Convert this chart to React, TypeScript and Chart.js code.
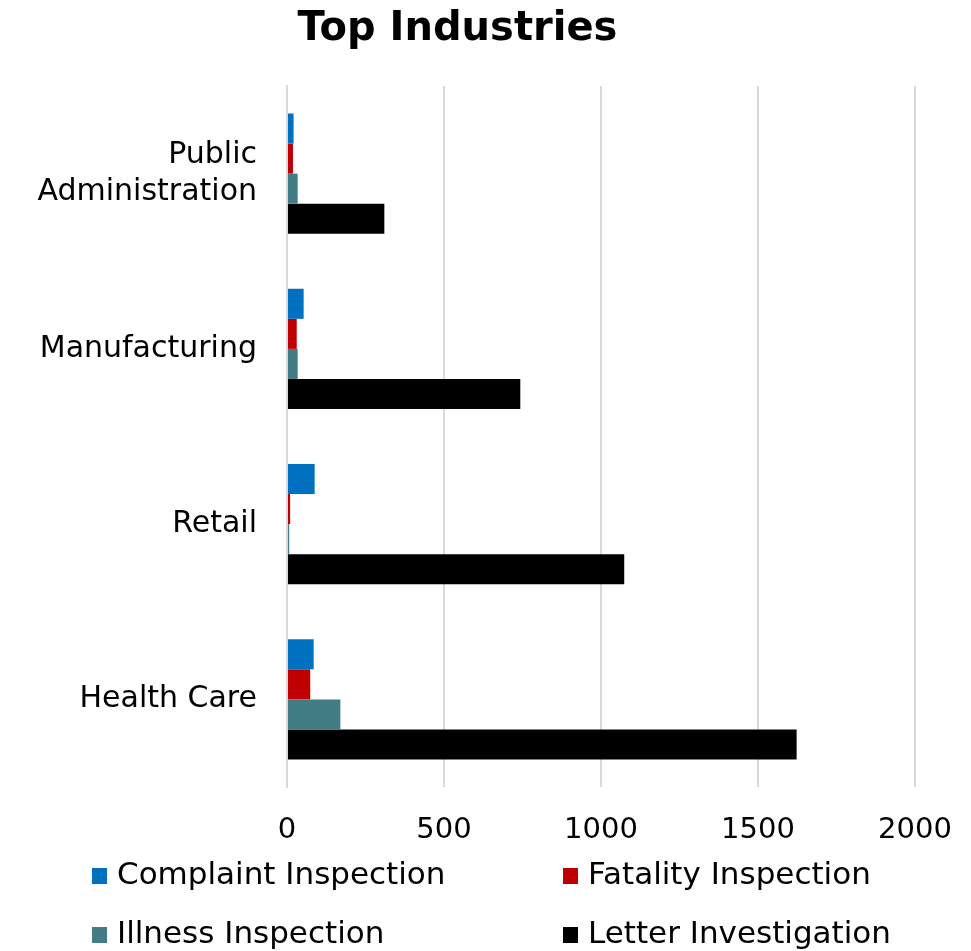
import React, { useEffect, useRef } from "react";
import { Chart, registerables } from "chart.js";

Chart.register(...registerables);

const categories: (string | string[])[] = [["Public", "Administration"], "Manufacturing", "Retail", "Health Care"];
const complaintInspection = [21, 53, 88, 85];
const fatalityInspection = [19, 31, 10, 74];
const illnessInspection = [34, 34, 7, 170];
const letterInvestigation = [310, 743, 1074, 1623];
const seriesNames = ["Complaint Inspection", "Fatality Inspection", "Illness Inspection", "Letter Investigation"];
const seriesColors = ["#0070C0", "#C00000", "#427C84", "#000000"];
const xTicks = [0, 500, 1000, 1500, 2000];

const FONT = "'DejaVu Sans', sans-serif";

const gridLegend = {
  id: "gridLegend",
  afterDraw(chart: any) {
    const ctx = chart.ctx;
    const cols = [92, 563];
    const rows = [876, 935];
    ctx.save();
    ctx.font = `31px ${FONT}`;
    ctx.textBaseline = "middle";
    ctx.textAlign = "left";
    chart.data.datasets.forEach((ds: any, i: number) => {
      const x = cols[i % 2];
      const y = rows[Math.floor(i / 2)];
      ctx.fillStyle = ds.backgroundColor;
      ctx.fillRect(x, y - 8, 15, 16);
      ctx.fillStyle = "#000";
      ctx.fillText(ds.label, x + 25, y);
    });
    ctx.restore();
  },
};

export default function App() {
  const ref = useRef<HTMLCanvasElement | null>(null);
  useEffect(() => {
    document.body.style.margin = "0";
    const values = [complaintInspection, fatalityInspection, illnessInspection, letterInvestigation];
    const chart = new Chart(ref.current!, {
      type: "bar",
      data: {
        labels: categories,
        datasets: seriesNames.map((name, i) => ({
          label: name,
          data: values[i],
          backgroundColor: seriesColors[i],
          borderWidth: 0,
          barPercentage: 1,
          categoryPercentage: 0.686,
        })),
      },
      plugins: [gridLegend],
      options: {
        indexAxis: "y",
        animation: false,
        responsive: false,
        maintainAspectRatio: false,
        layout: { padding: { left: 0, right: 56, top: 0, bottom: 104 } },
        plugins: {
          legend: { display: false },
          tooltip: { enabled: false },
          title: {
            display: true,
            text: "Top Industries",
            color: "#000",
            font: { family: FONT, size: 40, weight: "bold", lineHeight: 1.2 },
            padding: { top: 6, bottom: 32 },
          },
        },
        scales: {
          x: {
            min: 0,
            max: 2000,
            afterBuildTicks: (scale: any) => {
              scale.ticks = xTicks.map((v) => ({ value: v }));
            },
            afterFit: (scale: any) => {
              scale.height = 60;
              scale.paddingRight = 0;
              scale.paddingLeft = 0;
            },
            grid: { color: "#D9D9D9", lineWidth: 2, drawTicks: false },
            border: { display: false },
            ticks: {
              color: "#000",
              padding: 26,
              font: { family: FONT, size: 29 },
              callback: (v: any) => String(v),
            },
          },
          y: {
            afterFit: (scale: any) => {
              scale.width = 287;
            },
            grid: { display: false, drawTicks: false },
            border: { display: true, color: "#D9D9D9", width: 2 },
            ticks: { color: "#000", padding: 30, font: { family: FONT, size: 30, lineHeight: 1.25 } },
          },
        },
      },
    });
    return () => chart.destroy();
  }, []);
  return (
    <div style={{ width: 971, height: 951 }}>
      <canvas ref={ref} width={971} height={951} style={{ width: 971, height: 951, display: "block" }} />
    </div>
  );
}
